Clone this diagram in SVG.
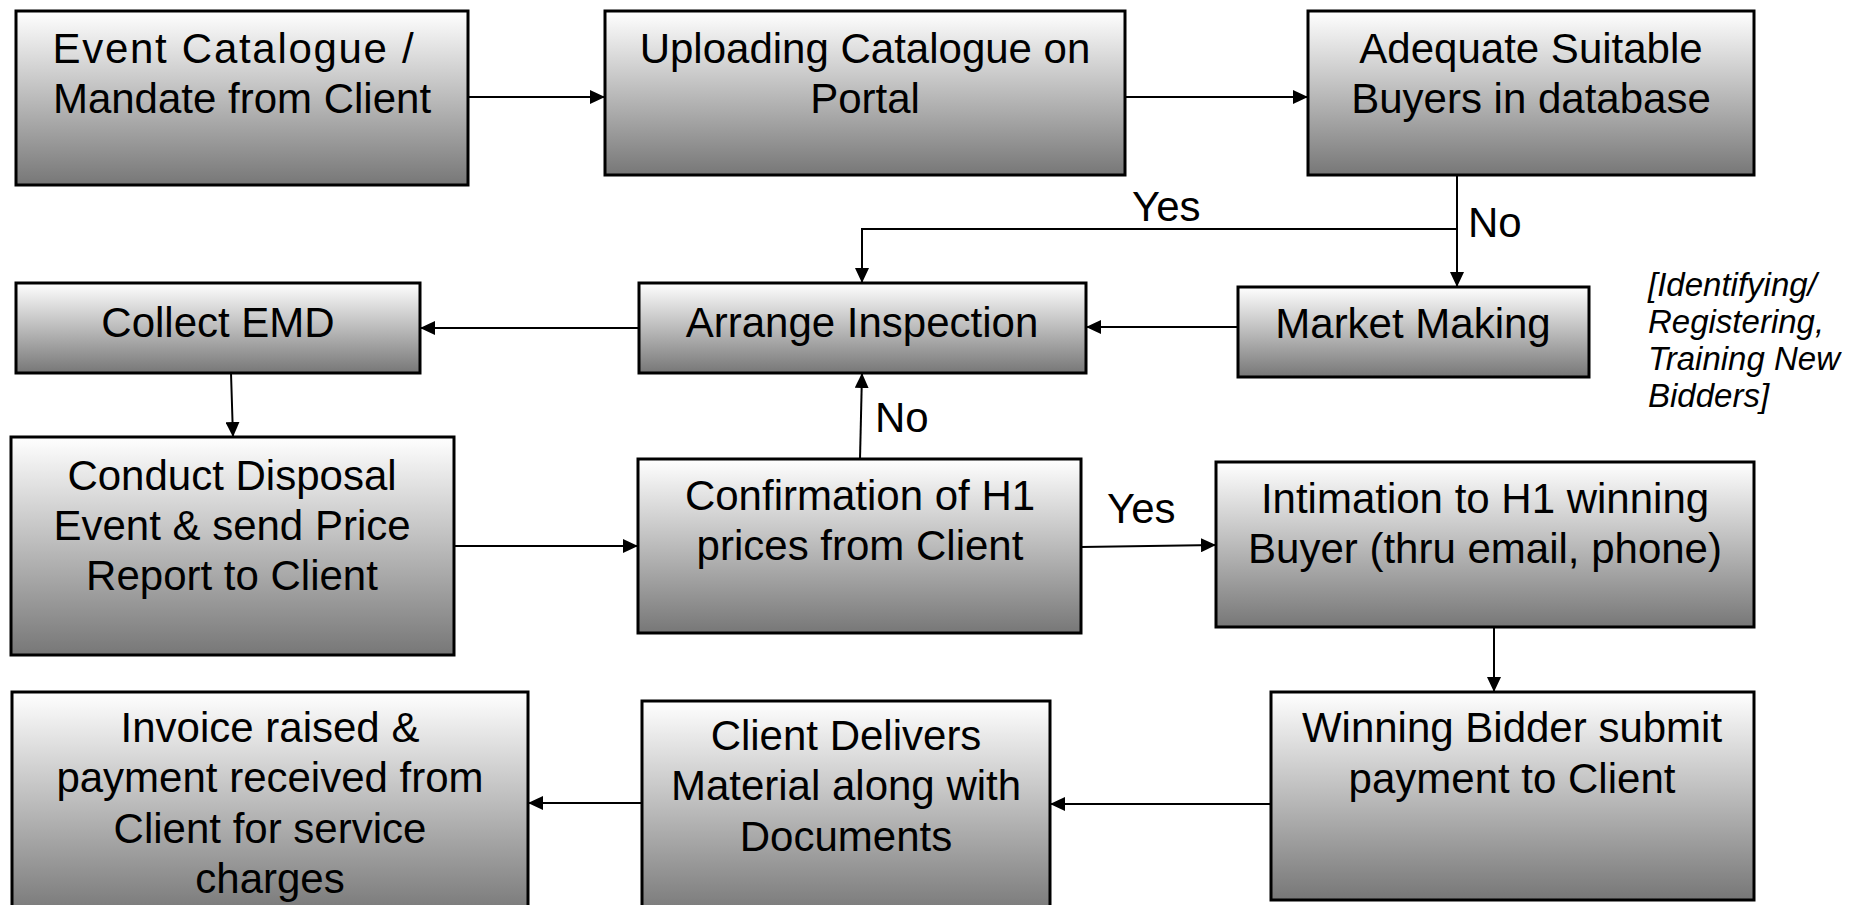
<svg xmlns="http://www.w3.org/2000/svg" width="1854" height="905" viewBox="0 0 1854 905">
<style>
.box{stroke:#000;stroke-width:3;fill:url(#g)}
.t{font-family:"Liberation Sans",Arial,sans-serif;font-size:42px;fill:#000;text-anchor:middle}
.lbl{font-family:"Liberation Sans",Arial,sans-serif;font-size:42px;fill:#000}
.note{font-family:"Liberation Sans",Arial,sans-serif;font-size:33px;font-style:italic;fill:#000}
.c{stroke:#000;stroke-width:2;fill:none;marker-end:url(#a)}
</style>
<defs>
<linearGradient id="g" x1="0" y1="0" x2="0" y2="1">
<stop offset="0" stop-color="#ffffff"/>
<stop offset="1" stop-color="#777777"/>
</linearGradient>
<marker id="a" markerUnits="userSpaceOnUse" markerWidth="16" markerHeight="14" refX="15" refY="7" orient="auto">
<path d="M0,0 L15,7 L0,14 Z" fill="#000"/>
</marker>
</defs>
<rect width="1854" height="905" fill="#fff"/>
<g id="connectors">
<path class="c" d="M468,97 H605"/>
<path class="c" d="M1125,97 H1308"/>
<path class="c" d="M1457,175 V287"/>
<path class="c" d="M1457,229 H862 V283"/>
<path class="c" d="M1238,327 H1086"/>
<path class="c" d="M639,328 H420"/>
<path class="c" d="M231,373 L233,437"/>
<path class="c" d="M454,546 H638"/>
<path class="c" d="M860,459 L862,373"/>
<path class="c" d="M1081,547 L1216,545"/>
<path class="c" d="M1494,627 V692"/>
<path class="c" d="M1271,804 H1050"/>
<path class="c" d="M642,803 H528"/>
<text class="lbl" x="1132" y="221">Yes</text>
<text class="lbl" x="1468" y="237">No</text>
<text class="lbl" x="875" y="432">No</text>
<text class="lbl" x="1107" y="523">Yes</text>
</g>
<g id="n1"><rect class="box" x="16" y="11" width="452" height="174"/>
<text class="t" x="234" y="63" letter-spacing="1.7">Event Catalogue /</text><text class="t" x="242" y="113">Mandate from Client</text></g>
<g id="n2"><rect class="box" x="605" y="11" width="520" height="164"/>
<text class="t" x="865" y="63">Uploading Catalogue on</text><text class="t" x="865" y="113">Portal</text></g>
<g id="n3"><rect class="box" x="1308" y="11" width="446" height="164"/>
<text class="t" x="1531" y="63">Adequate Suitable</text><text class="t" x="1531" y="113">Buyers in database</text></g>
<g id="n4"><rect class="box" x="1238" y="287" width="351" height="90"/>
<text class="t" x="1413" y="338">Market Making</text></g>
<g id="n5"><rect class="box" x="639" y="283" width="447" height="90"/>
<text class="t" x="862" y="337">Arrange Inspection</text></g>
<g id="n6"><rect class="box" x="16" y="283" width="404" height="90"/>
<text class="t" x="218" y="337">Collect EMD</text></g>
<g id="n7"><rect class="box" x="11" y="437" width="443" height="218"/>
<text class="t" x="232" y="490">Conduct Disposal</text><text class="t" x="232" y="540">Event &amp; send Price</text><text class="t" x="232" y="590">Report to Client</text></g>
<g id="n8"><rect class="box" x="638" y="459" width="443" height="174"/>
<text class="t" x="860" y="510">Confirmation of H1</text><text class="t" x="860" y="560">prices from Client</text></g>
<g id="n9"><rect class="box" x="1216" y="462" width="538" height="165"/>
<text class="t" x="1485" y="513">Intimation to H1 winning</text><text class="t" x="1485" y="563">Buyer (thru email, phone)</text></g>
<g id="n10"><rect class="box" x="1271" y="692" width="483" height="208"/>
<text class="t" x="1512" y="742">Winning Bidder submit</text><text class="t" x="1512" y="793">payment to Client</text></g>
<g id="n11"><rect class="box" x="642" y="701" width="408" height="215"/>
<text class="t" x="846" y="750">Client Delivers</text><text class="t" x="846" y="800">Material along with</text><text class="t" x="846" y="851">Documents</text></g>
<g id="n12"><rect class="box" x="12" y="692" width="516" height="224"/>
<text class="t" x="270" y="742">Invoice raised &amp;</text><text class="t" x="270" y="792">payment received from</text><text class="t" x="270" y="843">Client for service</text><text class="t" x="270" y="893">charges</text></g>
<g id="note">
<text class="note" x="1648" y="296">[Identifying/</text>
<text class="note" x="1648" y="333">Registering,</text>
<text class="note" x="1648" y="370">Training New</text>
<text class="note" x="1648" y="407">Bidders]</text>
</g>
</svg>
